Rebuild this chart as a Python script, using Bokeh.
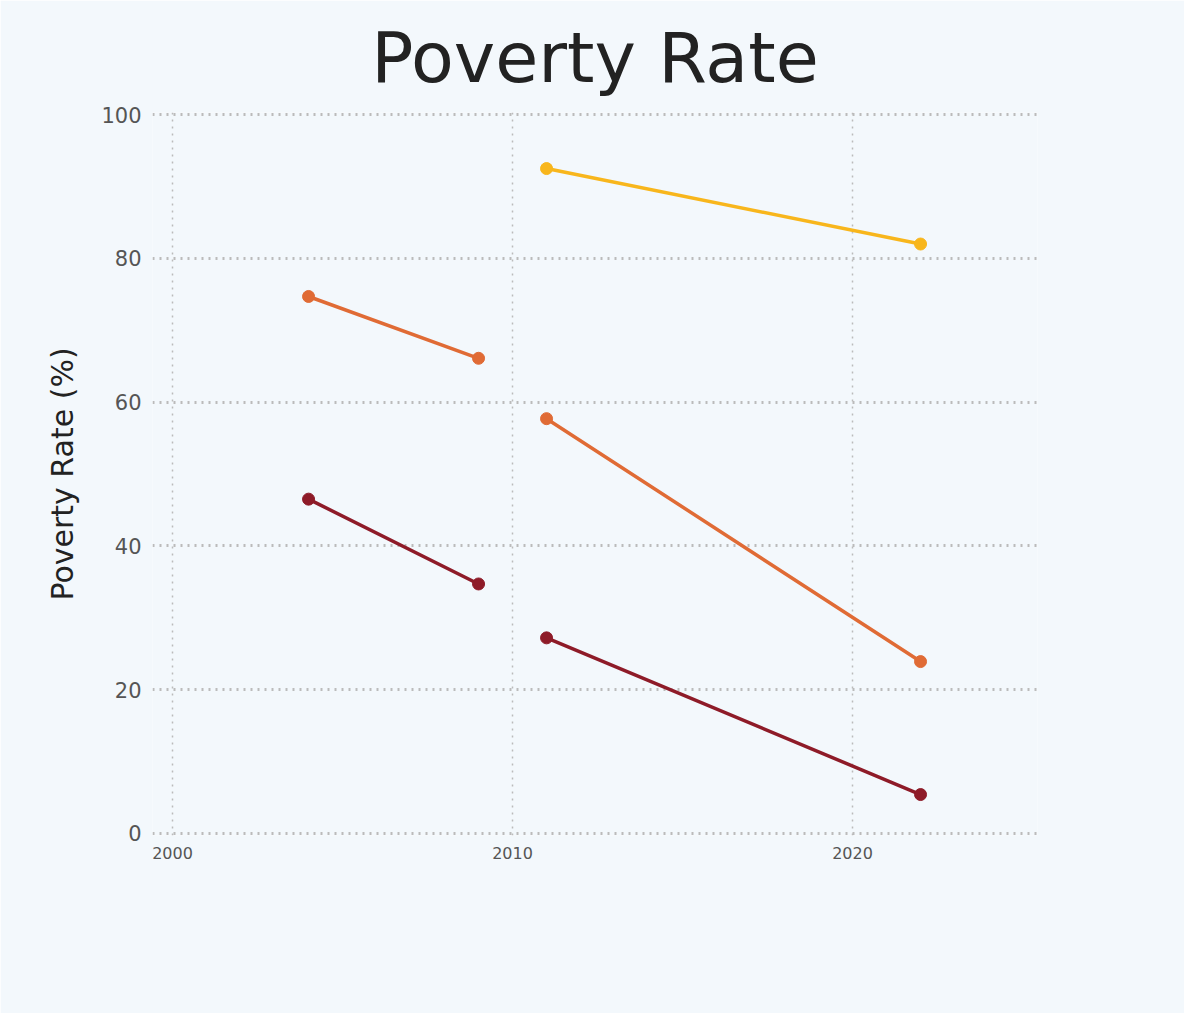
import numpy as np
from bokeh.plotting import figure
from bokeh.models import Legend, LegendItem, Range1d
from bokeh.embed import file_html
from bokeh.resources import INLINE

years = [2004, 2009, np.nan, 2011, 2022]
rate_300 = [46.5, 34.7, np.nan, 27.2, 5.4]
rate_420 = [74.7, 66.1, np.nan, 57.7, 23.9]
years_830 = [2011, 2022]
rate_830 = [92.5, 82.0]
names = ["$3.00 Poverty Rate", "$4.20 Poverty Rate", "$8.30 Poverty Rate"]
colors = ["#8e1b28", "#e06b35", "#f8b61c"]
bg = "#f3f8fc"

p = figure(frame_width=885, frame_height=723, output_backend="svg", toolbar_location=None,
           x_range=Range1d(1999.41, 2025.44), y_range=Range1d(-0.3, 100.3),
           background_fill_color=bg, border_fill_color=bg, outline_line_color=None,
           min_border_left=152, min_border_right=147, min_border_top=20, min_border_bottom=20)
p.title.text = "Poverty Rate"
p.title.align = "center"
p.title.text_font = "DejaVu Sans"
p.title.text_font_size = "70px"
p.title.text_font_style = "normal"
p.title.text_color = "#222222"
p.title.standoff = 28

series = [(years, rate_300), (years, rate_420), (years_830, rate_830)]
items = []
for (xs, ys), c, n in zip(series, colors, names):
    p.line(xs, ys, line_color=c, line_width=3.5)
    p.scatter(xs, ys, size=12, color=c)
    leg = p.scatter([np.nan], [np.nan], size=18, color=c)
    items.append(LegendItem(label=n, renderers=[leg]))

p.xaxis.ticker = [2000, 2010, 2020]
p.yaxis.ticker = [0, 20, 40, 60, 80, 100]
for ax in (p.xaxis[0], p.yaxis[0]):
    ax.axis_line_color = None
    ax.major_tick_line_color = None
    ax.minor_tick_line_color = None
    ax.major_label_text_font = "DejaVu Sans"
    ax.major_label_text_color = "#555555"
p.xaxis.major_label_text_font_size = "16px"
p.yaxis.major_label_text_font_size = "21px"
p.yaxis.axis_label = "Poverty Rate (%)"
p.yaxis.axis_label_text_font = "DejaVu Sans"
p.yaxis.axis_label_text_font_size = "30px"
p.yaxis.axis_label_text_font_style = "normal"
p.yaxis.axis_label_text_color = "#222222"
p.yaxis.axis_label_standoff = 18
for g in (p.xgrid[0], p.ygrid[0]):
    g.grid_line_dash = "2 5"
    g.grid_line_color = "#bbbbbb"
p.ygrid.grid_line_width = 3
p.xgrid.grid_line_width = 1.5

legend = Legend(items=items, orientation="horizontal", location="center",
                background_fill_color=bg, border_line_color=None,
                label_text_font="DejaVu Sans", label_text_font_size="22px",
                label_text_color="#222222", glyph_width=22, glyph_height=22,
                spacing=30, margin=20)
p.add_layout(legend, "below")

open("out.html", "w").write(file_html(p, INLINE))
